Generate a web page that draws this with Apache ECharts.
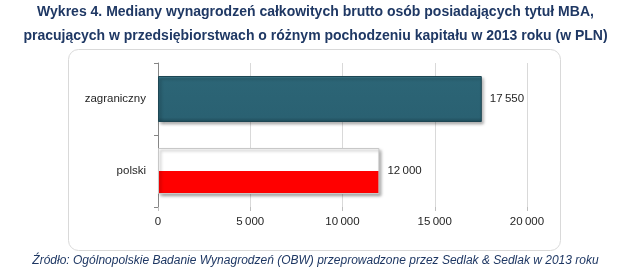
<!DOCTYPE html>
<html><head><meta charset="utf-8">
<script src="https://cdn.jsdelivr.net/npm/echarts@6/dist/echarts.min.js"></script>
<style>html,body{margin:0;padding:0;background:#fff}#c{width:631px;height:277px}</style>
</head><body><div id="c"></div>
<script>
var categories = ['polski', 'zagraniczny'];
var values = [12000, 17550];
var xTicks = [0, 5000, 10000, 15000, 20000];
var titleLines = ['Wykres 4. Mediany wynagrodzeń całkowitych brutto osób posiadających tytuł MBA,',
                  'pracujących w przedsiębiorstwach o różnym pochodzeniu kapitału w 2013 roku (w PLN)'];
var sourceText = 'Źródło: Ogólnopolskie Badanie Wynagrodzeń (OBW) przeprowadzone przez Sedlak & Sedlak w 2013 roku';

function fmt(v){ return String(v).replace(/\B(?=(\d{3})+(?!\d))/g, '\u2009'); }

var styles = [
  { color: { type:'linear', x:0, y:0, x2:0, y2:1, colorStops:[
      {offset:0, color:'#ffffff'},{offset:0.5, color:'#ffffff'},
      {offset:0.5, color:'#ff0000'},{offset:1, color:'#ff0000'}]},
    borderColor:'#c8c8c8', borderWidth:1,
    shadowColor:'rgba(0,0,0,0.35)', shadowBlur:3, shadowOffsetX:2, shadowOffsetY:2 },
  { color: { type:'linear', x:0, y:0, x2:0, y2:1, colorStops:[
      {offset:0, color:'#4a8798'},{offset:0.06, color:'#2c6576'},
      {offset:0.9, color:'#2a6172'},{offset:1, color:'#1f4b59'}]},
    borderColor:'#1d4653', borderWidth:1,
    shadowColor:'rgba(0,0,0,0.35)', shadowBlur:3, shadowOffsetX:2, shadowOffsetY:2 }
];

var chart = echarts.init(document.getElementById('c'));
chart.setOption({
  animation:false,
  graphic:[
    { type:'rect', shape:{x:68.5, y:49.5, width:492, height:201, r:10},
      style:{fill:'#fff', stroke:'#d9d9d9', lineWidth:1}, z:-10 },
    { type:'text', left:'center', top:5, style:{text:titleLines[0], font:'bold 14px "Liberation Sans"', fill:'#1f3864'} },
    { type:'text', left:'center', top:29, style:{text:titleLines[1], font:'bold 14px "Liberation Sans"', fill:'#1f3864'} },
    { type:'text', left:'center', top:255, style:{text:sourceText, font:'italic 12px "Liberation Sans"', fill:'#1f3864'} }
  ],
  grid:{left:158, right:104, top:63, bottom:70},
  xAxis:{ type:'value', min:xTicks[0], max:xTicks[xTicks.length-1], interval:5000,
    axisLine:{show:false},
    axisTick:{show:true, length:4, lineStyle:{color:'#bfbfbf'}},
    splitLine:{show:true, lineStyle:{color:'#d9d9d9'}},
    axisLabel:{color:'#262626', fontSize:11.5, fontFamily:'Liberation Sans', margin:9, formatter:fmt} },
  yAxis:{ type:'category', data:categories,
    axisLine:{show:true, lineStyle:{color:'#868686'}},
    axisTick:{show:true, length:4, inside:false, lineStyle:{color:'#868686'}},
    axisLabel:{color:'#262626', fontSize:11.5, fontFamily:'Liberation Sans', margin:12} },
  series:[{ type:'bar', barWidth:46,
    data: values.map(function(v,i){ return {value:v, itemStyle:styles[i]}; }),
    label:{show:true, position:'right', distance:8, color:'#262626', fontSize:11.5, fontFamily:'Liberation Sans',
      formatter:function(p){ return fmt(p.value); }} }]
});
</script></body></html>
